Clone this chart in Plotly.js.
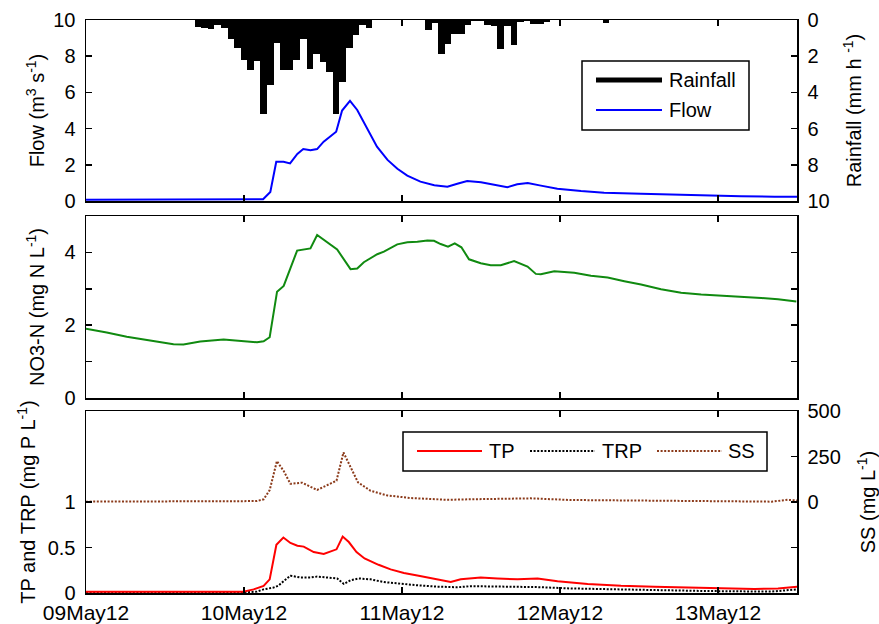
<!DOCTYPE html>
<html>
<head>
<meta charset="utf-8">
<script src="https://cdn.plot.ly/plotly-3.0.1.min.js"></script>
<style>
  html, body { margin: 0; padding: 0; background: #fff; }
  #chart { width: 879px; height: 624px; }
</style>
</head>
<body>
<div id="chart"></div>
<script>
// Storm event 09–13 May 2012: hours are counted from 09May12 00:00.

// Hourly rainfall (mm h-1), bar centred on the hour
const rainHour = [17,18,19,20,21,22,23,24,25,26,27,28,29,30,31,32,33,34,35,36,37,38,39,40,41,42,43,
                  52,53,54,55,56,57,58,59,60,61,62,63,64,65,66,67,68,69,70,
                  79];
const rainMm   = [0.37,0.42,0.50,0.28,0.46,1.05,1.57,2.2,2.76,2.25,5.2,3.6,1.29,2.76,2.76,2.2,1.05,2.7,1.9,2.3,2.85,5.2,3.4,1.57,0.83,0.28,0.42,
                  0.55,0.15,1.9,1.35,0.8,0.75,0.3,0.05,0.05,0.3,0.35,1.6,0.35,1.4,0.1,0.05,0.2,0.2,0.1,
                  0.15];

// Flow (m3 s-1)
const flowHour = [0,17.3,26.9,28.0,28.9,30.0,31.0,32.1,33.0,34.1,35.1,36.1,38.0,38.9,40.1,41.2,42.7,44.2,45.8,47.3,
                  48.8,50.8,52.9,54.9,56.4,57.9,60.0,62.0,64.0,65.5,67.1,69.1,71.6,75.2,78.7,84.3,89.4,94.5,99.5,104.6,108.0];
const flowVal  = [0.07,0.07,0.1,0.5,2.17,2.17,2.08,2.6,2.87,2.8,2.87,3.28,3.83,5.0,5.53,5.03,3.98,3.0,2.27,1.78,
                  1.4,1.07,0.87,0.79,0.95,1.1,1.04,0.88,0.76,0.92,1.0,0.85,0.68,0.55,0.46,0.40,0.35,0.29,0.26,0.24,0.24];

// Nitrate (mg N L-1)
const no3Hour = [0,3.15,6.19,9.74,13.29,14.81,17.35,20.90,23.44,25.98,26.98,27.90,29.02,30.03,32.07,34.09,35.11,36.63,38.15,40.18,
                 41.20,42.20,44.24,45.25,47.28,48.81,50.33,51.85,52.86,53.87,54.99,56.01,57.02,58.18,59.96,61.48,63.01,65.03,67.07,68.33,
                 69.09,71.12,74.16,76.70,79.24,81.77,84.31,87.35,90.40,93.44,96.99,99.53,102.57,105.12,107.90];
const no3Val  = [1.90,1.80,1.68,1.57,1.48,1.47,1.55,1.61,1.57,1.53,1.56,1.67,2.92,3.08,4.05,4.11,4.48,4.29,4.08,3.54,
                 3.56,3.73,3.95,4.02,4.22,4.28,4.29,4.33,4.32,4.23,4.16,4.25,4.14,3.81,3.70,3.65,3.65,3.76,3.61,3.41,
                 3.40,3.48,3.44,3.36,3.31,3.21,3.12,2.99,2.89,2.84,2.81,2.78,2.75,2.71,2.65];

// Total phosphorus (mg P L-1)
const tpHour = [0,23.9,25.46,26.98,27.90,28.92,29.98,31.05,32.11,33.07,34.59,36.11,38.05,38.99,39.92,41.09,42.31,44.44,46.27,48.29,
                50.53,53.37,55.40,56.92,59.96,62.50,65.55,68.59,71.63,76.20,81.27,86.34,91.42,95.99,101.56,105.12,107.14,108.0];
const tpVal  = [0.015,0.015,0.04,0.077,0.15,0.53,0.61,0.55,0.52,0.51,0.45,0.43,0.48,0.62,0.56,0.45,0.38,0.31,0.26,0.22,
                0.19,0.15,0.12,0.15,0.17,0.16,0.15,0.16,0.13,0.10,0.08,0.07,0.063,0.05,0.044,0.05,0.066,0.07];

// Total reactive phosphorus (mg P L-1)
const trpHour = [0,23.9,25.98,26.98,28.5,29.2,30.03,31.05,32.57,34.09,35.11,36.63,38.15,39.16,40.18,41.44,43.22,45.25,47.79,50.33,
                 53.37,56.42,58.44,63.0,68.5,73.66,83.81,93.95,104.1,107.14,108.0];
const trpVal  = [0.005,0.005,0.015,0.04,0.06,0.08,0.13,0.19,0.17,0.17,0.18,0.17,0.16,0.10,0.14,0.16,0.15,0.12,0.10,0.085,
                 0.07,0.063,0.075,0.07,0.065,0.05,0.033,0.022,0.015,0.04,0.04];

// Suspended sediment (mg L-1)
const ssHour = [0,23.9,25.98,26.98,27.9,29.0,30.03,31.05,32.83,35.11,36.63,38.05,39.11,40.18,41.32,43.22,45.76,49.31,54.89,58.44,
                63.0,67.57,73.66,83.81,93.95,104.1,106.6,108.0];
const ssVal  = [2,2,5,15,65,225,170,100,106,66,93,117,272,190,108,62,36,22,12,15,
                18,20,11,7,5,2,12,8];

// ---------------------------------------------------------------------------
const W = 879, H = 624;
const FONT = 'Liberation Sans, Arial, sans-serif';
const T0 = Date.UTC(2012, 4, 9);
function toDate(h) {
  return new Date(T0 + Math.round(h * 3600000)).toISOString().replace('T', ' ').slice(0, 19);
}
const dates = arr => arr.map(toDate);
const px = x => x / W;           // pixel -> paper x
const py = y => 1 - y / H;       // pixel -> paper y

const xRange = [toDate(0), toDate(108)];
const xDomain = [px(86), px(797)];
const dom = {
  top: [py(201), py(20)],
  mid: [py(398), py(216)],
  bot: [py(593), py(411)]
};

const C = {
  rain: '#000000', flow: '#0000ff', no3: '#108a10',
  tp: '#ff0000', trp: '#000000', ss: '#8b3a1a'
};
const dotted = '2px,1.6px';

const traces = [
  { type: 'bar', x: dates(rainHour), y: rainMm, width: 3600000,
    marker: { color: C.rain, line: { width: 0 } }, xaxis: 'x', yaxis: 'y2', name: 'Rainfall', showlegend: false },
  { type: 'scatter', mode: 'lines', x: dates(flowHour), y: flowVal,
    line: { color: C.flow, width: 2 }, xaxis: 'x', yaxis: 'y', name: 'Flow', showlegend: false },
  { type: 'scatter', mode: 'lines', x: dates(no3Hour), y: no3Val,
    line: { color: C.no3, width: 2 }, xaxis: 'x2', yaxis: 'y3', name: 'NO3-N', showlegend: false },
  { type: 'scatter', mode: 'lines', x: dates(ssHour), y: ssVal,
    line: { color: C.ss, width: 2, dash: dotted }, xaxis: 'x3', yaxis: 'y5', name: 'SS', showlegend: false },
  { type: 'scatter', mode: 'lines', x: dates(trpHour), y: trpVal,
    line: { color: C.trp, width: 2, dash: dotted }, xaxis: 'x3', yaxis: 'y4', name: 'TRP', showlegend: false },
  { type: 'scatter', mode: 'lines', x: dates(tpHour), y: tpVal,
    line: { color: C.tp, width: 2 }, xaxis: 'x3', yaxis: 'y4', name: 'TP', showlegend: false }
];

const tickFont = { family: FONT, size: 20, color: '#000' };
const titleFont = { family: FONT, size: 20, color: '#000' };
const minorTicks = extra => Object.assign({ ticks: 'inside', ticklen: 6, tickwidth: 1.5, tickcolor: '#000', showgrid: false }, extra);
const common = {
  showline: true, linecolor: '#000', linewidth: 1.5,
  ticks: 'inside', ticklen: 6, tickwidth: 1.5, tickcolor: '#000',
  showgrid: false, zeroline: false, tickfont: tickFont, fixedrange: true
};
function xAxis(anchor, labels) {
  return Object.assign({}, common, {
    type: 'date', domain: xDomain, anchor: anchor, range: xRange,
    tick0: toDate(0), dtick: 86400000, tickformat: '%d%b%y',
    tickfont: { family: FONT, size: 21, color: '#000' },
    showticklabels: labels, mirror: 'ticks', ticklabelstandoff: 0
  });
}

const layout = {
  width: W, height: H,
  margin: { l: 0, r: 0, t: 0, b: 0 },
  paper_bgcolor: '#fff', plot_bgcolor: 'rgba(0,0,0,0)',
  showlegend: false,
  font: { family: FONT, color: '#000' },
  bargap: 0,
  xaxis:  xAxis('y', false),
  xaxis2: Object.assign(xAxis('y3', false), { matches: 'x' }),
  xaxis3: Object.assign(xAxis('y4', true), { matches: 'x' }),
  yaxis: Object.assign({}, common, {
    domain: dom.top, anchor: 'x', range: [0, 10], dtick: 2, ticklabelstandoff: 5,
    title: { text: 'Flow (m<sup>3</sup> s<sup>-1</sup>)', font: titleFont, standoff: 3 }
  }),
  yaxis2: Object.assign({}, common, {
    overlaying: 'y', side: 'right', anchor: 'x', range: [10, 0], dtick: 2, ticklabelstandoff: 5,
    title: { text: 'Rainfall (mm h <sup>-1</sup>)', font: titleFont, standoff: 18 }
  }),
  yaxis3: Object.assign({}, common, {
    domain: dom.mid, anchor: 'x2', range: [0, 5], dtick: 2, mirror: 'ticks', ticklabelstandoff: 5,
    minor: minorTicks({ dtick: 1 }),
    title: { text: 'NO3-N (mg N L<sup>-1</sup>)', font: titleFont, standoff: 14 }
  }),
  yaxis4: Object.assign({}, common, {
    domain: dom.bot, anchor: 'x3', range: [0, 2], ticklabelstandoff: 5,
    tickvals: [0, 0.5, 1], ticktext: ['0', '0.5', '1'],
    title: { text: 'TP and TRP (mg P L<sup>-1</sup>)', font: titleFont, standoff: 6 }
  }),
  yaxis5: Object.assign({}, common, {
    overlaying: 'y4', side: 'right', anchor: 'x3', range: [-500, 500], ticklabelstandoff: 5,
    tickvals: [0, 250, 500], ticktext: ['0', '250', '500'],
    minor: minorTicks({ tickvals: [-250] }),
    title: { text: 'SS (mg L<sup>-1</sup>)', font: titleFont, standoff: 21 }
  }),
  shapes: [],
  annotations: []
};

// Boxed legends drawn as shapes + text so the sample lines can be long
function legendBox(x0, y0, x1, y1) {
  layout.shapes.push({ type: 'rect', xref: 'paper', yref: 'paper', layer: 'above',
    x0: px(x0), x1: px(x1), y0: py(y1), y1: py(y0),
    line: { color: '#000', width: 1.5 }, fillcolor: '#fff' });
}
function legendItem(name, line, x0, x1, y, tx) {
  layout.shapes.push({ type: 'line', xref: 'paper', yref: 'paper', layer: 'above',
    x0: px(x0), x1: px(x1), y0: py(y), y1: py(y), line: line });
  layout.annotations.push({ xref: 'paper', yref: 'paper', x: px(tx), y: py(y),
    xanchor: 'left', yanchor: 'middle', showarrow: false, text: name,
    font: { family: FONT, size: 20, color: '#000' } });
}
legendBox(582, 61, 749, 130);
legendItem('Rainfall', { color: C.rain, width: 5 }, 596, 662, 80, 667);
legendItem('Flow', { color: C.flow, width: 2 }, 596, 662, 110, 667);

legendBox(403, 432, 767, 471);
legendItem('TP', { color: C.tp, width: 2 }, 417, 482, 451, 487);
legendItem('TRP', { color: C.trp, width: 2, dash: dotted }, 530, 595, 451, 600);
legendItem('SS', { color: C.ss, width: 2, dash: dotted }, 657, 722, 451, 726);

Plotly.newPlot('chart', traces, layout, { displayModeBar: false, staticPlot: true });
</script>
</body>
</html>
